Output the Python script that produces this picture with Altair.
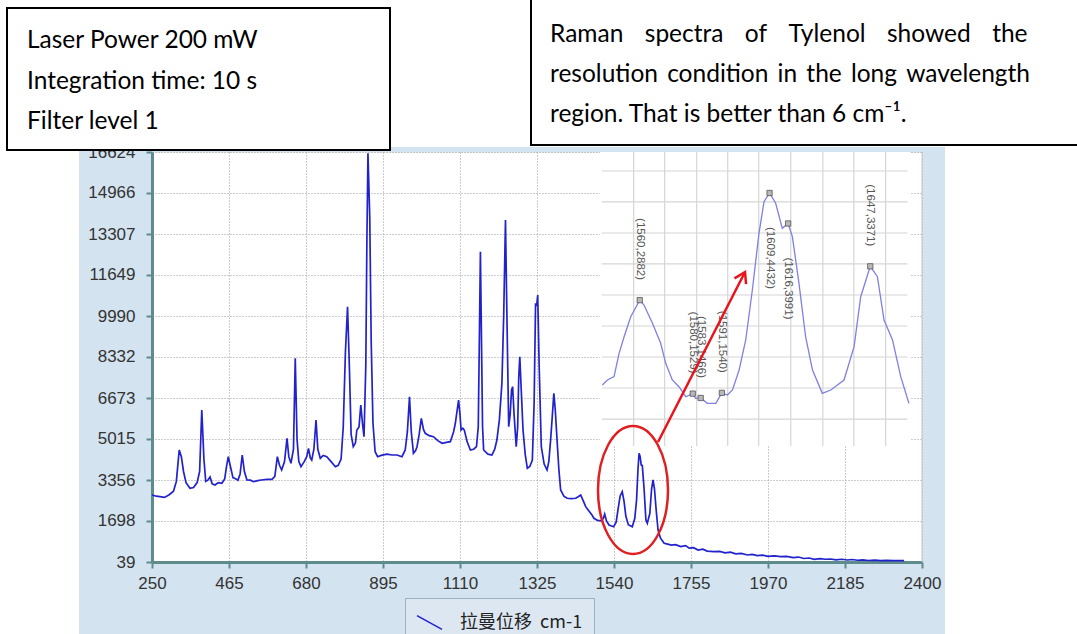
import altair as alt
import pandas as pd

# ---------------- data ----------------
series_name = "拉曼位移\u00a0\u00a0cm-1"

shift = [250, 262, 272, 285, 298, 310, 318, 326, 332, 338, 345, 356, 366, 376, 383, 389, 395, 400,
         406, 412, 418, 426, 435, 445, 453, 458, 463, 469, 476, 482, 490, 496, 502, 508, 515, 525,
         533, 545, 555, 571, 585, 593, 600, 606, 612, 620, 627, 632, 638, 645, 650, 655, 660, 666,
         675, 682, 687, 692, 696, 702, 708, 713, 720, 728, 738, 750, 762, 770, 778, 784, 790, 796,
         801, 806, 812, 818, 822, 828, 833, 838, 842, 847, 850, 853, 858, 862, 867, 873, 880, 890,
         906, 920, 934, 948, 957, 963, 969, 974, 980, 986, 990, 996, 1002, 1008, 1013, 1024, 1036,
         1048, 1060, 1072, 1083, 1092, 1097, 1106, 1110, 1113, 1118, 1122, 1130, 1139, 1148, 1156,
         1161, 1164, 1167, 1170, 1173, 1176, 1188, 1199, 1207, 1213, 1220, 1227, 1232, 1237, 1241,
         1246, 1250, 1254, 1257, 1261, 1267, 1271, 1274, 1277, 1281, 1286, 1292, 1298, 1305, 1312,
         1317, 1321, 1324, 1327, 1331, 1337, 1345, 1353, 1358, 1363, 1368, 1372, 1376, 1381, 1386,
         1391, 1400, 1409, 1420, 1433, 1440, 1447, 1453, 1461, 1470, 1478, 1484, 1494, 1503, 1510,
         1514, 1519, 1526, 1539, 1546, 1551, 1557, 1563, 1568, 1573, 1580, 1591, 1598, 1603, 1607,
         1610, 1613, 1616, 1619, 1624, 1629, 1633, 1640, 1645, 1649, 1653, 1658, 1663, 1670,
         1680, 1690, 1700, 1712, 1726, 1740, 1750, 1762, 1775, 1788, 1800, 1819, 1835, 1850, 1865,
         1880, 1895, 1913, 1926, 1940, 1955, 1970, 1988, 2006, 2022, 2040, 2055, 2070, 2085, 2099,
         2115, 2130, 2145, 2160, 2175, 2192, 2205, 2220, 2235, 2250, 2268, 2285, 2300, 2320, 2335,
         2350]
intensity = [2749, 2700, 2680, 2650, 2760, 2900, 3300, 4570, 4300, 3700, 3250, 3020, 3050, 3250,
             3700, 6187, 4200, 3300, 3350, 3480, 3200, 3154, 3250, 3222, 3400, 3900, 4298, 3900,
             3450, 3420, 3350, 3600, 4367, 3700, 3356, 3350, 3288, 3330, 3356, 3384, 3380, 3500,
             4298, 3950, 3760, 4100, 5043, 4300, 4031, 4600, 8278, 5000, 4100, 3894, 4100, 4300,
             4638, 4250, 4165, 4600, 5783, 4600, 4234, 4350, 4298, 4100, 3894, 3950, 4200, 5500,
             8500, 10366, 8000, 5200, 4703, 4850, 5378, 5500, 6390, 5600, 5108, 8000, 13000, 16571,
             14000, 9000, 5650, 4500, 4298, 4350, 4400, 4367, 4367, 4298, 4570, 5300, 6725, 5300,
             4435, 4550, 4703, 5200, 5852, 5400, 5245, 5150, 5108, 4950, 4840, 4880, 4907, 5300,
             5650, 6592, 6000, 5378, 5450, 5378, 4900, 4570, 4600, 4703, 5500, 9000, 12590, 9000,
             5500, 4570, 4400, 4367, 4600, 4974, 5800, 7268, 10000, 13874, 10000, 5512, 6000, 7000,
             7132, 6000, 4703, 5500, 7500, 8343, 7000, 5378, 4400, 3829, 3900, 4165, 6500, 10503,
             10400, 10839, 8000, 4703, 4000, 3760, 4100, 4974, 6000, 6862, 6200, 4974, 3800, 2951,
             2700, 2616, 2600, 2616, 2680, 2749, 2550, 2276, 2100, 1950, 1807, 1720, 1700, 1800,
             1980, 1700, 1536, 1467, 1650, 2142, 2700, 2883, 2500, 1900, 1550, 1467, 1800, 2547,
             3800, 4435, 4300, 3963, 3950, 3000, 1750, 1604, 2000, 3000, 3356, 3000, 2100, 1333,
             1000,
             795, 760, 720, 740, 660, 700, 600, 620, 520, 560, 480, 456, 470, 410, 440,
             370, 390, 322, 345, 300, 320, 270, 290, 253, 265, 220, 240, 180, 200, 148,
             175, 150, 160, 125, 150, 120, 140, 110, 125, 100, 115, 92, 105, 95, 100,
             92]

x_ticks = [250, 465, 680, 895, 1110, 1325, 1540, 1755, 1970, 2185, 2400]
y_ticks = [39, 1698, 3356, 5015, 6673, 8332, 9990, 11649, 13307, 14966, 16624]

# zoomed inset
inset_x_domain = [1545, 1662]
inset_y_domain = [771, 5025]
inset_shift = [1545.9, 1547.8, 1550.3, 1552.2, 1554.1, 1556.6, 1560.0, 1561.6, 1564.8, 1567.9,
               1569.8, 1572.3, 1574.8, 1577.4, 1580.0, 1581.1, 1583.0, 1585.5, 1588.7, 1591.0,
               1593.1, 1595.0, 1597.5, 1600.0, 1602.5, 1605.0, 1606.9, 1609.0, 1611.3, 1613.8,
               1616.0, 1617.6, 1620.1, 1622.6, 1625.2, 1628.9, 1632.1, 1637.1, 1640.9, 1643.4,
               1647.0, 1649.7, 1652.2, 1655.4, 1658.5, 1661.6]
inset_intensity = [1653, 1726, 1774, 2112, 2352, 2642, 2882, 2811, 2546, 2257, 1967, 1726, 1629,
                   1484, 1529, 1461, 1466, 1388, 1388, 1540, 1509, 1581, 1870, 2305, 3028, 3849,
                   4306, 4432, 4283, 3921, 3991, 3800, 3125, 2352, 1870, 1533, 1581, 1726, 2208,
                   2931, 3371, 3221, 2594, 2305, 1774, 1388]
peak_shift = [1560, 1580, 1583, 1591, 1609, 1616, 1647]
peak_intensity = [2882, 1529, 1466, 1540, 4432, 3991, 3371]
peak_side = ["above", "above", "above", "above", "below", "below", "above"]
inset_x_grid = [1557.7, 1569.4, 1581.5, 1593.2, 1604.9, 1617.0, 1629.1, 1640.8, 1652.8]
inset_y_grid = [1161, 1610, 2059, 2507, 2956, 3405, 3853, 4302, 4750]

box_left_lines = ["Laser Power 200 mW", "Integration time: 10 s", "Filter level 1"]
box_right_lines = [
    "\u2003\u2009".join(["Raman", "spectra", "of", "Tylenol", "showed", "the"]),
    "\u2005\u2009".join(["resolution", "condition", "in", "the", "long", "wavelength"]),
    "region. That is better than 6 cm\u207b\u00b9.",
]

# ---------------- layout ----------------
W, H = 770, 410
PAD = {"left": 152, "top": 152, "right": 155, "bottom": 72}
FRAME = "#d4e3f0"
AXC = "#5e8c8c"
BOXFONT = 24.5
one = pd.DataFrame({"k": [0]})

xs = alt.Scale(domain=[x_ticks[0], x_ticks[-1]], nice=False, zero=False)
ys = alt.Scale(domain=[y_ticks[0], y_ticks[-1]], nice=False, zero=False)

common_axis = dict(title=None, grid=True, gridDash=[1, 2], gridColor="#9a9a9a", gridWidth=1,
                   domainColor=AXC, domainWidth=3, tickColor=AXC, tickWidth=2, tickSize=6,
                   labelFontSize=17, labelFont="Liberation Sans", labelColor="#333333",
                   labelFlush=False, labelOverlap=False, format="d")
x_axis = alt.Axis(values=x_ticks, labelPadding=7, **common_axis)
y_axis = alt.Axis(values=y_ticks, labelPadding=11, **common_axis)

# white page outside the blue frame
strips = alt.layer(
    alt.Chart(one).mark_rect(fill="white").encode(
        x=alt.value(-152), x2=alt.value(925), y=alt.value(-152), y2=alt.value(-5)),
    alt.Chart(one).mark_rect(fill="white").encode(
        x=alt.value(-152), x2=alt.value(-73), y=alt.value(-152), y2=alt.value(482)),
    alt.Chart(one).mark_rect(fill="white").encode(
        x=alt.value(793), x2=alt.value(925), y=alt.value(-152), y2=alt.value(482)),
)

main_df = pd.DataFrame({"shift": shift, "intensity": intensity, "series": series_name})
spectrum = alt.Chart(main_df).mark_line(strokeWidth=1.7).encode(
    x=alt.X("shift:Q", scale=xs, axis=x_axis),
    y=alt.Y("intensity:Q", scale=ys, axis=y_axis),
    color=alt.Color("series:N", scale=alt.Scale(range=["#2222cc"]),
                    legend=alt.Legend(title=None, orient="none", legendX=253, legendY=446,
                                      symbolType="M-1,-0.55L1,0.55", symbolSize=625,
                                      symbolStrokeWidth=1.5, labelFont="Noto Sans CJK SC",
                                      labelFontSize=18, labelColor="#222222", labelOffset=17,
                                      labelLimit=400, fillColor="#dde7f2", strokeColor="#9fb0c0",
                                      padding=11)),
)
border = alt.Chart(pd.DataFrame({"bx": [x_ticks[-1]]})).mark_rule(color="#c4c4c4", strokeWidth=1).encode(
    x=alt.X("bx:Q", scale=xs, axis=x_axis))
main = alt.layer(spectrum, border)

# inset
ixs = alt.Scale(domain=inset_x_domain, range=[448, 758], nice=False, zero=False)
iys = alt.Scale(domain=inset_y_domain, range=[294, 0], nice=False, zero=False)
bg_df = pd.DataFrame({"x0": [inset_x_domain[0]], "x1": [inset_x_domain[1]],
                      "y0": [inset_y_domain[0]], "y1": [inset_y_domain[1]]})
inset_bg = alt.Chart(bg_df).mark_rect(fill="white").encode(
    x=alt.X("x0:Q", scale=ixs, axis=None), x2="x1:Q",
    y=alt.Y("y0:Q", scale=iys, axis=None), y2="y1:Q")
vg = pd.DataFrame({"gx": inset_x_grid, "y0": inset_y_domain[0], "y1": inset_y_domain[1]})
hg = pd.DataFrame({"gy": inset_y_grid, "x0": inset_x_domain[0] + 0.7, "x1": inset_x_domain[1] - 1})
inset_vgrid = alt.Chart(vg).mark_rule(color="#d6d6d6", strokeWidth=1.2).encode(
    x=alt.X("gx:Q", scale=ixs, axis=None),
    y=alt.Y("y0:Q", scale=iys, axis=None), y2="y1:Q")
inset_hgrid = alt.Chart(hg).mark_rule(color="#d6d6d6", strokeWidth=1.2).encode(
    y=alt.Y("gy:Q", scale=iys, axis=None),
    x=alt.X("x0:Q", scale=ixs, axis=None), x2="x1:Q")
inset_line = alt.Chart(pd.DataFrame({"ix": inset_shift, "iy": inset_intensity})).mark_line(
    color="#7f7fe4", strokeWidth=1.3).encode(
    x=alt.X("ix:Q", scale=ixs, axis=None), y=alt.Y("iy:Q", scale=iys, axis=None))
pk = pd.DataFrame({"px": peak_shift, "py": peak_intensity, "side": peak_side})
pk["lab"] = ["(%d,%d)" % (a, b) for a, b in zip(peak_shift, peak_intensity)]
pk_base = alt.Chart(pk).encode(x=alt.X("px:Q", scale=ixs, axis=None),
                               y=alt.Y("py:Q", scale=iys, axis=None))
pk_marks = pk_base.mark_square(size=28, fill="#b8b8b8", stroke="#555555", strokeWidth=0.8, opacity=1)
pk_above = pk_base.transform_filter(alt.datum.side == "above").mark_text(
    angle=90, align="right", baseline="middle", dx=-20, fontSize=11.5,
    font="Liberation Sans", color="#555555").encode(text="lab:N")
pk_below = pk_base.transform_filter(alt.datum.side == "below").mark_text(
    angle=90, align="left", baseline="middle", dx=34, fontSize=11.5,
    font="Liberation Sans", color="#555555").encode(text="lab:N")
inset = alt.layer(inset_bg, inset_vgrid, inset_hgrid, inset_line, pk_marks, pk_above, pk_below)

# red ellipse and arrow
ellipse = alt.Chart(one).mark_point(
    shape="M-0.547,0A0.547,1,0,1,0,0.547,0A0.547,1,0,1,0,-0.547,0Z",
    size=16384, filled=False, stroke="#e02020", strokeWidth=2.5, opacity=1).encode(
    x=alt.value(481), y=alt.value(338))
arrow_line = alt.Chart(one).mark_rule(color="#e8141c", strokeWidth=2.5).encode(
    x=alt.value(506), y=alt.value(290), x2=alt.value(592), y2=alt.value(122))
arrow_head = alt.Chart(one).mark_point(
    shape="M-0.5,0.8L0,0L0.5,0.8", size=676, filled=False, stroke="#e8141c",
    strokeWidth=2.5, opacity=1, angle=27).encode(x=alt.value(593), y=alt.value(120))

# text boxes
boxes = [
    alt.Chart(one).mark_rect(fill="white", stroke="black", strokeWidth=2).encode(
        x=alt.value(-145), x2=alt.value(238), y=alt.value(-144), y2=alt.value(-2)),
    alt.Chart(one).mark_rect(fill="white", stroke="black", strokeWidth=2).encode(
        x=alt.value(379), x2=alt.value(940), y=alt.value(-160), y2=alt.value(-7)),
]
for i, t in enumerate(box_left_lines):
    boxes.append(alt.Chart(one).mark_text(text=t, align="left", baseline="alphabetic",
                                          font="Lato", fontSize=BOXFONT, color="black").encode(
        x=alt.value(-125), y=alt.value(-104 + 40.5 * i)))
for i, t in enumerate(box_right_lines):
    boxes.append(alt.Chart(one).mark_text(text=t, align="left", baseline="alphabetic",
                                          font="Lato", fontSize=BOXFONT, color="black").encode(
        x=alt.value(398), y=alt.value(-110 + 40 * i)))

chart = alt.layer(strips, main, inset, ellipse, arrow_line, arrow_head, *boxes).resolve_scale(
    x="independent", y="independent").properties(
    width=W, height=H, padding=PAD, autosize=alt.AutoSizeParams(type="none"),
    background=FRAME).configure_view(fill="white", stroke="transparent")

chart.save("out.html", embed_options={"renderer": "svg", "actions": False})
